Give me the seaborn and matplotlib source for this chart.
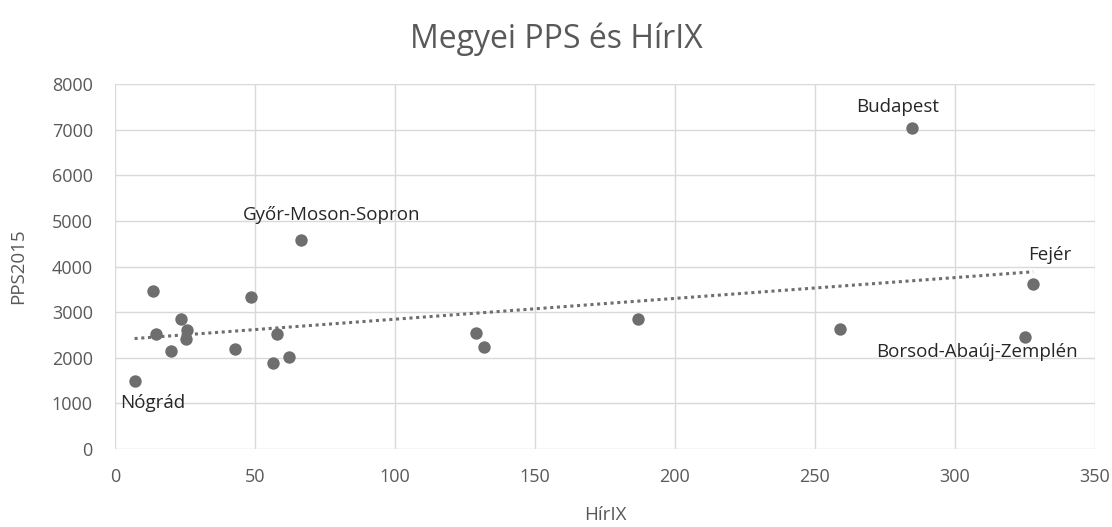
import matplotlib
matplotlib.use("Agg")
import matplotlib.pyplot as plt
import seaborn as sns
import pandas as pd

# HírIX vs PPS2015 per county
hirix = [7, 13.6, 14.6, 20, 23.6, 25.7, 25.4, 42.9, 48.6, 57.9, 56.4, 62.1,
         66.5, 128.9, 131.8, 186.8, 259, 284.6, 327.9, 325]
pps = [1480, 3465, 2520, 2150, 2850, 2610, 2410, 2190, 3340, 2520, 1890, 2020,
       4570, 2540, 2240, 2850, 2630, 7040, 3620, 2460]
county = ["Nógrád", "", "", "", "", "", "", "", "", "", "", "",
          "Győr-Moson-Sopron", "", "", "", "", "Budapest", "Fejér",
          "Borsod-Abaúj-Zemplén"]

# label offsets in pixels, with alignment
label_pos = {
    "Nógrád": (-14, -22, "left"),
    "Győr-Moson-Sopron": (30, 25, "center"),
    "Budapest": (-14, 21, "center"),
    "Fejér": (17, 29, "center"),
    "Borsod-Abaúj-Zemplén": (-48, -15, "center"),
}

df = pd.DataFrame({"HírIX": hirix, "PPS2015": pps, "megye": county})

sns.set_style("white")
plt.rcParams["font.family"] = ["Open Sans", "DejaVu Sans"]

fig, ax = plt.subplots(figsize=(11.12, 5.27), dpi=100)
fig.subplots_adjust(left=0.1034, right=0.9847, top=0.8406, bottom=0.148)

text_col = "#595959"
grid_col = "#d9d9d9"
pt_col = "#6e6e6e"

sns.regplot(data=df, x="HírIX", y="PPS2015", ax=ax, ci=None, truncate=True,
            scatter_kws={"s": 80, "color": pt_col, "alpha": 1, "linewidths": 0},
            line_kws={"color": pt_col, "linestyle": (0, (1, 1.2)), "linewidth": 2.2})

for _, r in df.iterrows():
    if r["megye"]:
        dx, dy, ha = label_pos[r["megye"]]
        ax.annotate(r["megye"], (r["HírIX"], r["PPS2015"]), xytext=(dx, dy),
                    textcoords="offset pixels", ha=ha, va="center",
                    fontsize=13.5, color="#262626")

ax.set_xlim(0, 350)
ax.set_ylim(0, 8000)
ax.set_xticks(range(0, 351, 50))
ax.set_yticks(range(0, 8001, 1000))
ax.grid(True, color=grid_col, linewidth=1)
ax.set_axisbelow(True)
for s in ax.spines.values():
    s.set_visible(False)
ax.tick_params(length=0, labelsize=13, labelcolor=text_col)
ax.tick_params(axis="y", pad=16)
ax.tick_params(axis="x", pad=14)

ax.set_xlabel("HírIX", fontsize=13.5, color=text_col, labelpad=14)
ax.set_ylabel("PPS2015", fontsize=13.5, color=text_col, labelpad=18)
fig.suptitle("Megyei PPS és HírIX", x=0.5, y=0.925, fontsize=23, color=text_col,
             va="center")

fig.savefig("out.png", dpi=100)
